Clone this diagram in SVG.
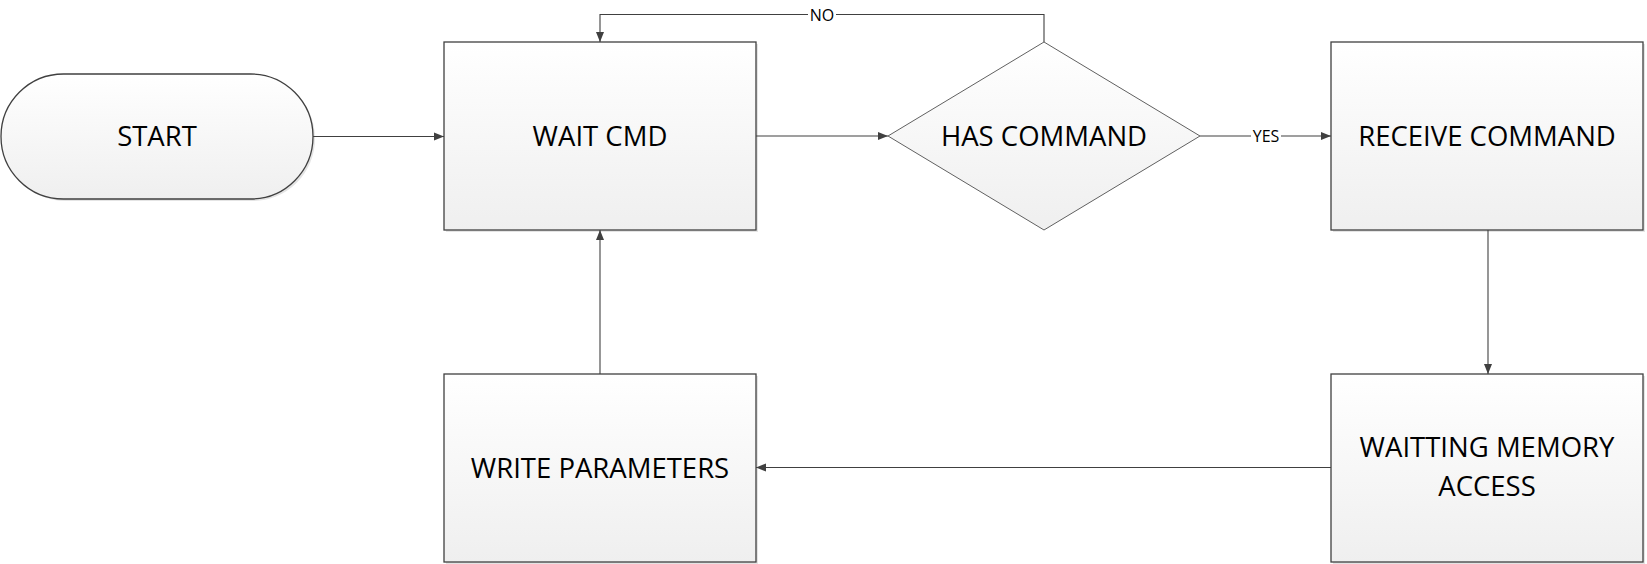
<svg xmlns="http://www.w3.org/2000/svg" width="1647" height="564" viewBox="0 0 1647 564">
<defs>
<linearGradient id="g" x1="0" y1="0" x2="0" y2="1">
<stop offset="0" stop-color="#ffffff"/>
<stop offset="1" stop-color="#efefef"/>
</linearGradient>
<marker id="arr" viewBox="0 0 10 10" refX="10" refY="5" markerWidth="10" markerHeight="10" markerUnits="userSpaceOnUse" orient="auto">
<path d="M0,1 L10,5 L0,9 Z" fill="#404040"/>
</marker>
<style>
.shape{fill:url(#g);stroke:#404040;stroke-width:1.3}
.dia{fill:url(#g);stroke:#606060;stroke-width:1}
.sh{fill:#e4e4e4}
.t{font-family:"Open Sans","Noto Sans",sans-serif;font-size:27.5px;fill:#000;text-anchor:middle}
.lbl{font-family:"Open Sans","Noto Sans",sans-serif;font-size:16px;fill:#000;text-anchor:middle}
.c{fill:none;stroke:#404040;stroke-width:1.1}
</style>
</defs>
<rect width="1647" height="564" fill="#ffffff"/>
<g id="start">
<rect class="sh" x="3" y="76" width="312" height="125" rx="62.5" ry="62.5"/>
<rect class="shape" x="1" y="74" width="312" height="125" rx="62.5" ry="62.5"/>
<text class="t" x="157" y="146">START</text>
</g>
<g id="wait-cmd">
<rect class="sh" x="446" y="44" width="312" height="188"/>
<rect class="shape" x="444" y="42" width="312" height="188"/>
<text class="t" x="600" y="146">WAIT CMD</text>
</g>
<g id="has-command">
<polygon class="dia" points="1044,42 1200,136 1044,230 888,136"/>
<text class="t" x="1044" y="146">HAS COMMAND</text>
</g>
<g id="receive-command">
<rect class="sh" x="1333" y="44" width="312" height="188"/>
<rect class="shape" x="1331" y="42" width="312" height="188"/>
<text class="t" x="1487" y="146">RECEIVE COMMAND</text>
</g>
<g id="waitting-memory-access">
<rect class="sh" x="1333" y="376" width="312" height="188"/>
<rect class="shape" x="1331" y="374" width="312" height="188"/>
<text class="t" x="1487" y="457">WAITTING MEMORY</text>
<text class="t" x="1487" y="496">ACCESS</text>
</g>
<g id="write-parameters">
<rect class="sh" x="446" y="376" width="312" height="188"/>
<rect class="shape" x="444" y="374" width="312" height="188"/>
<text class="t" x="600" y="478">WRITE PARAMETERS</text>
</g>
<g id="connectors">
<path class="c" d="M313,136.5 H444" marker-end="url(#arr)"/>
<path class="c" d="M756,136 H888" marker-end="url(#arr)"/>
<path class="c" d="M1200,136 H1331" marker-end="url(#arr)"/>
<path class="c" d="M1488,230 V374" marker-end="url(#arr)"/>
<path class="c" d="M1331,467.5 H756" marker-end="url(#arr)"/>
<path class="c" d="M600,374 V230" marker-end="url(#arr)"/>
<path class="c" d="M1044,42 V14.5 H600 V42" marker-end="url(#arr)"/>
<rect x="808" y="6" width="28" height="17" fill="#ffffff"/>
<text class="lbl" x="822" y="20.5">NO</text>
<rect x="1251" y="128" width="30" height="17" fill="#ffffff"/>
<text class="lbl" x="1266" y="142">YES</text>
</g>
</svg>
